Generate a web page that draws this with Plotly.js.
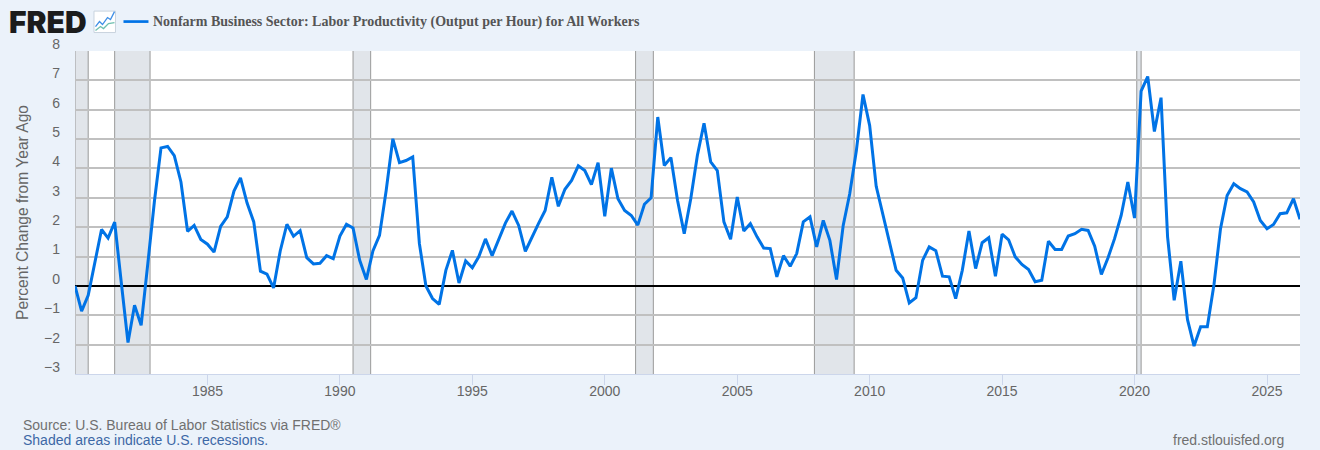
<!DOCTYPE html>
<html>
<head>
<meta charset="utf-8">
<script src="https://cdn.plot.ly/plotly-3.0.1.min.js"></script>
<style>html,body{margin:0;padding:0;background:#ebf2fa;overflow:hidden}</style>
</head>
<body>
<div id="chart" style="width:1320px;height:450px"></div>
<script>
const seriesName = "Nonfarm Business Sector: Labor Productivity (Output per Hour) for All Workers";
const yAxisTitle = "Percent Change from Year Ago";
const sourceText = "Source: U.S. Bureau of Labor Statistics via FRED®";
const noteText = "Shaded areas indicate U.S. recessions.";
const siteText = "fred.stlouisfed.org";
const firstYear = 1980;
const xTickYears = [1985, 1990, 1995, 2000, 2005, 2010, 2015, 2020, 2025];
const productivity = [
  0, -0.86, -0.32, 0.8, 1.92, 1.63, 2.17, 0.1, -1.93, -0.66, -1.34, 0.76,
  2.9, 4.7, 4.75, 4.44, 3.54, 1.86, 2.06, 1.58, 1.42, 1.15, 2.03, 2.35,
  3.23, 3.68, 2.82, 2.18, 0.5, 0.4, -0.07, 1.19, 2.1, 1.69, 1.88, 0.96,
  0.75, 0.77, 1.03, 0.93, 1.7, 2.1, 1.97, 0.87, 0.22, 1.19, 1.72, 3.25,
  5.01, 4.2, 4.27, 4.39, 1.44, 0, -0.43, -0.63, 0.53, 1.21, 0.1, 0.85,
  0.62, 1.0, 1.6, 1.03, 1.58, 2.14, 2.55, 2.06, 1.18, 1.67, 2.12, 2.57,
  3.7, 2.71, 3.29, 3.59, 4.09, 3.93, 3.45, 4.2, 2.37, 4.01, 2.97, 2.57,
  2.4, 2.07, 2.78, 3.0, 5.75, 4.1, 4.37, 2.91, 1.78, 2.97, 4.44, 5.54,
  4.22, 3.93, 2.18, 1.59, 3.03, 1.87, 2.12, 1.67, 1.29, 1.27, 0.31, 1.03,
  0.67, 1.1, 2.18, 2.35, 1.33, 2.23, 1.55, 0.22, 2.06, 3.14, 4.6, 6.52,
  5.46, 3.39, 2.46, 1.44, 0.53, 0.27, -0.58, -0.4, 0.87, 1.33, 1.2, 0.33,
  0.31, -0.43, 0.53, 1.87, 0.59, 1.47, 1.64, 0.33, 1.76, 1.57, 0.99, 0.73,
  0.56, 0.14, 0.19, 1.52, 1.24, 1.24, 1.7, 1.78, 1.93, 1.89, 1.35, 0.39,
  0.96, 1.61, 2.4, 3.54, 2.31, 6.63, 7.13, 5.26, 6.41, 1.67, -0.49, 0.84,
  -1.15, -2.05, -1.39, -1.39, 0.05, 1.95, 3.08, 3.48, 3.31, 3.2, 2.86, 2.23,
  1.95, 2.09, 2.46, 2.49, 2.97, 2.27
];
const recessionStarts = ["1980-01-01","1981-07-01","1990-07-01","2001-03-01","2007-12-01","2020-02-01"];
const recessionEnds   = ["1980-07-01","1982-11-01","1991-03-01","2001-11-01","2009-06-01","2020-04-01"];

const dates = productivity.map((_, i) => {
  const y = firstYear + Math.floor(i / 4);
  const m = String(i % 4 * 3 + 1).padStart(2, "0");
  return y + "-" + m + "-01";
});

const BLUE = "#0073e6";
const recessionShapes = recessionStarts.map((s, i) => ({
  type: "rect", layer: "below", xref: "x", yref: "paper",
  x0: s, x1: recessionEnds[i], y0: 0, y1: 1,
  fillcolor: "#e1e5ea", line: {width: 0}
}));
const recessionEdges = recessionStarts.concat(recessionEnds).map(d => ({
  type: "line", layer: "below", xref: "x", yref: "paper",
  x0: d, x1: d, y0: 0, y1: 1,
  line: {color: "#999999", width: 1}
}));
const M = {l: 74.5, r: 20, t: 50.5, b: 75.7};
const px = (x) => (x - M.l) / (1320 - M.l - M.r);
const py = (y) => 1 - (y - M.t) / (450 - M.t - M.b);
const decor = [
  {type:"line", xref:"paper", yref:"paper", x0:px(123), x1:px(148), y0:py(21), y1:py(21), line:{color:BLUE, width:2.7}},
  {type:"rect", xref:"paper", yref:"paper", x0:px(93.5), x1:px(115), y0:py(10.5), y1:py(32), fillcolor:"#ffffff", line:{color:"#c9d3de", width:1}},
  {type:"path", xref:"paper", yref:"paper", path:`M${px(95)},${py(26)} L${px(99)},${py(21)} L${px(102)},${py(24)} L${px(107)},${py(17)} L${px(110)},${py(19)} L${px(114)},${py(11)}`, line:{color:"#3f8fe6", width:1.3}},
  {type:"path", xref:"paper", yref:"paper", path:`M${px(95)},${py(30)} L${px(100)},${py(26)} L${px(103)},${py(28)} L${px(108)},${py(23)} L${px(114)},${py(22)}`, line:{color:"#6fc0b0", width:1.3}}
];

const note = (text, x, y, anchor, font) => ({
  text, x: px(x), y: py(y), xref: "paper", yref: "paper",
  xanchor: anchor, yanchor: "middle", showarrow: false, font,
  xshift: 0, borderpad: 0, borderwidth: 0
});
const SANS = "'Liberation Sans', Arial, sans-serif";
const annotations = [
  note("FRED", 8, 21, "left", {family: "Inter, " + SANS, size: 30, weight: 900, color: "#1c1c1c"}),
  note("<b>" + seriesName + "</b>", 152.5, 21, "left", {family: "'Liberation Serif', serif", size: 14, color: "#555555"}),
  note(sourceText, 22.5, 425, "left", {family: SANS, size: 14, color: "#707070"}),
  note(noteText, 22.5, 440, "left", {family: SANS, size: 14, color: "#3d68a6"}),
  note(siteText, 1284, 440, "right", {family: SANS, size: 14, color: "#707070"})
];

Plotly.newPlot("chart", [{
  type: "scatter", mode: "lines", name: seriesName,
  x: dates, y: productivity,
  line: {color: BLUE, width: 3, shape: "linear"},
  hoverinfo: "x+y"
}], {
  width: 1320, height: 450,
  paper_bgcolor: "#ebf2fa", plot_bgcolor: "#ffffff",
  margin: {l: M.l, r: M.r, t: M.t, b: M.b, pad: 0},
  showlegend: false,
  font: {family: SANS, color: "#666666", size: 14},
  xaxis: {
    type: "date", range: ["1980-01-01", "2026-04-01"],
    tickmode: "array",
    tickvals: xTickYears.map(y => y + "-01-01"),
    ticktext: xTickYears.map(String),
    ticks: "outside", ticklen: 10, tickwidth: 1, tickcolor: "#ccd6eb",
    ticklabelstandoff: -6,
    showline: true, linecolor: "#ccd6eb", linewidth: 1,
    showgrid: false, zeroline: false,
    tickfont: {family: SANS, size: 14, color: "#666666"}
  },
  yaxis: {
    range: [-3, 8], tick0: -3, dtick: 1,
    title: {text: yAxisTitle, font: {family: SANS, size: 15.6, color: "#666666"}, standoff: 11},
    showgrid: true, gridcolor: "#c0c0c0", gridwidth: 1.5,
    zeroline: true, zerolinecolor: "#000000", zerolinewidth: 2,
    ticks: "", showline: false, ticklabelshift: -7, ticklabelstandoff: 14,
    tickfont: {family: SANS, size: 14, color: "#666666"}
  },
  shapes: recessionShapes.concat(recessionEdges, decor),
  annotations
}, {displayModeBar: false, responsive: false});
</script>
</body>
</html>
